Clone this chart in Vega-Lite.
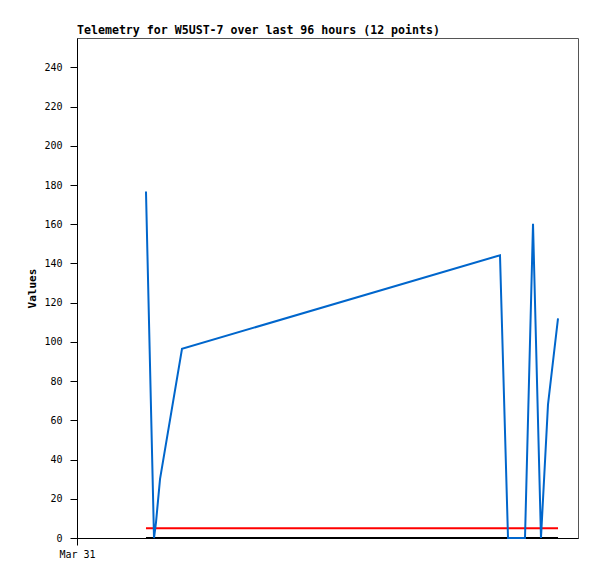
{
  "$schema": "https://vega.github.io/schema/vega-lite/v6.json",
  "width": 501,
  "height": 500,
  "autosize": {"type": "none"},
  "padding": {"left": 77, "top": 38, "right": 19, "bottom": 41},
  "background": "white",
  "config": {
    "view": {"stroke": "#555555", "strokeWidth": 1},
    "axis": {"grid": false, "domainColor": "black", "tickColor": "black", "labelColor": "black", "labelFont": "DejaVu Sans Mono", "labelFontSize": 10, "titleFont": "DejaVu Sans Mono", "titleFontWeight": "bold", "titleFontSize": 11, "tickSize": 7, "domainWidth": 1, "tickWidth": 1}
  },
  "title": {
    "text": "Telemetry for W5UST-7 over last 96 hours (12 points)",
    "anchor": "start",
    "frame": "group",
    "font": "DejaVu Sans Mono",
    "fontWeight": "bold",
    "fontSize": 11.6,
    "color": "black",
    "baseline": "bottom",
    "offset": -10
  },
  "datasets": {
    "telemetry": [
      {"t": 13.77, "v": 176.7},
      {"t": 15.37, "v": 0},
      {"t": 15.77, "v": 8},
      {"t": 16.57, "v": 30},
      {"t": 20.96, "v": 96.5},
      {"t": 84.43, "v": 144.2},
      {"t": 86.03, "v": 0},
      {"t": 89.42, "v": 0},
      {"t": 91.02, "v": 160.2},
      {"t": 92.61, "v": 0},
      {"t": 94.01, "v": 68},
      {"t": 96.01, "v": 112}
    ],
    "refs": [
      {"t": 13.77, "v": 5, "s": "threshold"},
      {"t": 96.01, "v": 5, "s": "threshold"},
      {"t": 13.77, "v": 0, "s": "zero"},
      {"t": 96.01, "v": 0, "s": "zero"}
    ]
  },
  "layer": [
    {
      "data": {"name": "refs"},
      "mark": {"type": "line", "strokeWidth": 2},
      "encoding": {
        "x": {"field": "t", "type": "quantitative", "scale": {"domain": [0, 100], "nice": false, "zero": false},
          "axis": {"values": [0], "labelExpr": "'Mar 31'", "title": null, "labelPadding": 4, "labelFlush": false}},
        "y": {"field": "v", "type": "quantitative", "scale": {"domain": [0, 255], "nice": false},
          "axis": {"values": [0, 20, 40, 60, 80, 100, 120, 140, 160, 180, 200, 220, 240], "title": "Values", "titlePadding": 6, "labelPadding": 8}},
        "color": {"field": "s", "type": "nominal", "scale": {"domain": ["threshold", "zero"], "range": ["#ff0000", "#000000"]}, "legend": null}
      }
    },
    {
      "data": {"name": "telemetry"},
      "mark": {"type": "line", "strokeWidth": 2, "color": "#0066cc"},
      "encoding": {
        "x": {"field": "t", "type": "quantitative"},
        "y": {"field": "v", "type": "quantitative"}
      }
    }
  ]
}
